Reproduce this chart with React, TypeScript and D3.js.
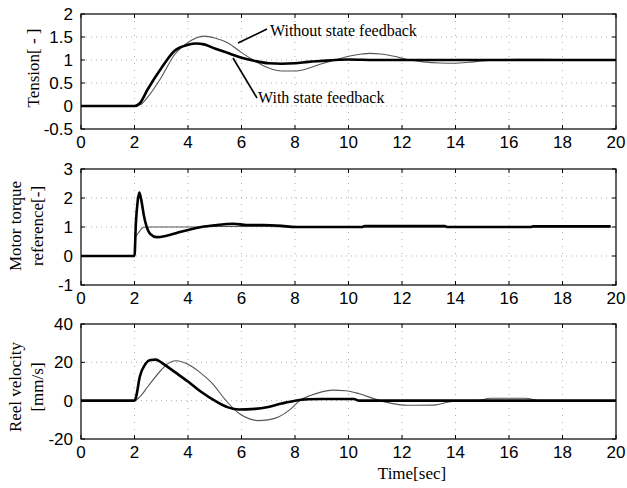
import React from "react";
import * as d3 from "d3";

// Time samples (s) and responses for each panel
const tensionThinT = [0, 2, 2.25, 2.5, 3, 3.5, 4, 4.3, 4.6, 5, 5.5, 6, 6.5, 7, 7.5, 8, 8.5, 9, 9.5, 10, 10.5, 10.8, 11.2, 11.7, 12.2, 12.8, 13.4, 14, 14.5, 15, 15.5, 16.3, 17, 18, 19, 20];
const tensionThinV = [0, 0, 0.04, 0.2, 0.62, 1.12, 1.38, 1.48, 1.52, 1.48, 1.37, 1.16, 0.98, 0.83, 0.76, 0.76, 0.82, 0.92, 1.0, 1.08, 1.13, 1.145, 1.13, 1.08, 1.01, 0.96, 0.935, 0.93, 0.95, 0.98, 1.0, 1.015, 1.015, 1.01, 1.0, 1.0];

const tensionThickT = [0, 2, 2.2, 2.5, 3, 3.5, 4, 4.3, 4.6, 5, 5.5, 6, 6.5, 7, 7.5, 8, 8.5, 9, 9.5, 10, 11, 12, 14, 16, 18, 20];
const tensionThickV = [0, 0, 0.06, 0.37, 0.82, 1.2, 1.33, 1.36, 1.34, 1.25, 1.15, 1.05, 0.98, 0.93, 0.92, 0.93, 0.96, 0.98, 1.0, 1.01, 1.0, 1.0, 1.0, 1.0, 1.0, 1.0];

const torqueThinT = [0, 2, 2.03, 2.15, 2.35, 2.6, 4, 5, 6, 7, 8, 10, 14, 18, 19.8];
const torqueThinV = [0, 0, 0.62, 0.8, 0.99, 1.0, 1.0, 1.02, 1.02, 1.02, 1.0, 1.0, 1.0, 1.0, 1.0];

const torqueThickT = [0, 2, 2.05, 2.12, 2.18, 2.25, 2.35, 2.45, 2.6, 2.83, 3.2, 3.6, 4, 4.5, 5, 5.7, 6.2, 6.8, 7.5, 8, 9, 10.5, 10.6, 13.6, 13.7, 16.8, 16.9, 19.8];
const torqueThickV = [0, 0, 1.1, 1.9, 2.19, 1.95, 1.4, 1.02, 0.75, 0.65, 0.7, 0.8, 0.9, 1.0, 1.06, 1.11, 1.07, 1.07, 1.04, 1.0, 1.0, 1.0, 1.03, 1.03, 1.0, 1.0, 1.02, 1.02];

const velThinT = [0, 2, 2.2, 2.5, 3, 3.2, 3.55, 4, 4.4, 4.9, 5.4, 5.9, 6.3, 6.6, 7, 7.4, 7.8, 8.2, 8.6, 9, 9.4, 9.9, 10.4, 11, 11.6, 12.2, 13.2, 13.8, 14.3, 14.9, 15.3, 16.6, 17.2, 20];
const velThinV = [0, 0, 2, 7.4, 16, 18.8, 20.8, 19, 15.3, 9.1, 0.4, -6.6, -9.5, -10.4, -10, -8.4, -4.8, 0.3, 2.8, 4.6, 5.5, 5.2, 3.6, 0.8, -1.4, -2.4, -2.3, -0.6, 0, 0.2, 1.3, 1.3, 0, 0];

const velThickT = [0, 2, 2.05, 2.2, 2.4, 2.6, 2.8, 3.0, 3.2, 3.5, 4, 4.5, 5, 5.5, 5.9, 6.5, 7, 7.5, 8, 8.5, 9, 10.2, 10.4, 12, 16, 20];
const velThickV = [0, 0, 1.5, 12.6, 19, 21.2, 21.4, 20, 18, 15, 10, 4.5, 0, -3.5, -4.6, -4.3, -3.3, -1.5, 0, 0.7, 0.9, 0.9, 0, 0, 0, 0];

const xTicks = [0, 2, 4, 6, 8, 10, 12, 14, 16, 18, 20];
const tensionTicks = [-0.5, 0, 0.5, 1, 1.5, 2];
const torqueTicks = [-1, 0, 1, 2, 3];
const velTicks = [-20, 0, 20, 40];

const LEFT = 81;
const RIGHT = 616;

type Series = { t: number[]; v: number[]; thick: boolean };

type PanelProps = {
  top: number;
  bottom: number;
  domain: [number, number];
  yTicks: number[];
  fmt: (v: number) => string;
  series: Series[];
  labelLines: string[];
  labelCenter: number;
  children?: React.ReactNode;
};

function Panel({ top, bottom, domain, yTicks, fmt, series, labelLines, labelCenter }: PanelProps) {
  const x = d3.scaleLinear().domain([0, 20]).range([LEFT, RIGHT]);
  const y = d3.scaleLinear().domain(domain).range([bottom, top]);
  const line = (s: Series) =>
    d3
      .line<number>()
      .x((_, i) => x(s.t[i]))
      .y((d) => y(d))
      .curve(d3.curveMonotoneX)(s.v) || "";
  const tickLen = 4;
  const labelXs = labelLines.length === 1 ? [33] : [15, 37];
  return (
    <g>
      {/* dotted grid */}
      {xTicks.slice(1, -1).map((t) => (
        <line key={"gx" + t} x1={x(t)} x2={x(t)} y1={top} y2={bottom} stroke="#9a9a9a" strokeWidth={0.8} strokeDasharray="1,6" />
      ))}
      {yTicks.slice(1, -1).map((t) => (
        <line key={"gy" + t} x1={LEFT} x2={RIGHT} y1={y(t)} y2={y(t)} stroke="#9a9a9a" strokeWidth={0.8} strokeDasharray="1,4" />
      ))}
      {/* data */}
      {series.filter((s) => !s.thick).map((s, i) => (
        <path key={"thin" + i} d={line(s)} fill="none" stroke="#555" strokeWidth={1.1} />
      ))}
      {series.filter((s) => s.thick).map((s, i) => (
        <path key={"thick" + i} d={line(s)} fill="none" stroke="#000" strokeWidth={2.6} strokeLinejoin="round" />
      ))}
      {/* frame */}
      <rect x={LEFT} y={top} width={RIGHT - LEFT} height={bottom - top} fill="none" stroke="#000" strokeWidth={1.2} />
      {xTicks.map((t) => (
        <g key={"xt" + t}>
          <line x1={x(t)} x2={x(t)} y1={bottom} y2={bottom - tickLen} stroke="#000" />
          <line x1={x(t)} x2={x(t)} y1={top} y2={top + tickLen} stroke="#000" />
          <text x={x(t)} y={bottom + 19} textAnchor="middle" fontFamily="Liberation Sans, Arial, sans-serif" fontSize={17}>
            {t}
          </text>
        </g>
      ))}
      {yTicks.map((t) => (
        <g key={"yt" + t}>
          <line x1={LEFT} x2={LEFT + tickLen} y1={y(t)} y2={y(t)} stroke="#000" />
          <line x1={RIGHT} x2={RIGHT - tickLen} y1={y(t)} y2={y(t)} stroke="#000" />
          <text x={73} y={y(t)} dy="0.36em" textAnchor="end" fontFamily="Liberation Sans, Arial, sans-serif" fontSize={17}>
            {fmt(t)}
          </text>
        </g>
      ))}
      {labelLines.map((l, i) => (
        <text
          key={l}
          transform={`translate(${labelXs[i]},${labelCenter}) rotate(-90)`}
          textAnchor="middle"
          dy="0.35em"
          fontFamily="Liberation Serif, Times New Roman, serif"
          fontSize={17}
        >
          {l}
        </text>
      ))}
    </g>
  );
}

export default function App() {
  const fmtPlain = (v: number) => String(v);
  return (
    <svg width={627} height={488} style={{ position: "absolute", left: 0, top: 0, background: "#fff" }}>
      <rect width={627} height={488} fill="#fff" />
      <Panel
        top={14}
        bottom={129}
        domain={[-0.5, 2]}
        yTicks={tensionTicks}
        fmt={fmtPlain}
        series={[
          { t: tensionThinT, v: tensionThinV, thick: false },
          { t: tensionThickT, v: tensionThickV, thick: true },
        ]}
        labelLines={["Tension[ - ]"]}
        labelCenter={68}
      />
      <Panel
        top={169}
        bottom={285}
        domain={[-1, 3]}
        yTicks={torqueTicks}
        fmt={fmtPlain}
        series={[
          { t: torqueThinT, v: torqueThinV, thick: false },
          { t: torqueThickT, v: torqueThickV, thick: true },
        ]}
        labelLines={["Motor torque", "reference[-]"]}
        labelCenter={226}
      />
      <Panel
        top={324}
        bottom={439}
        domain={[-20, 40]}
        yTicks={velTicks}
        fmt={fmtPlain}
        series={[
          { t: velThinT, v: velThinV, thick: false },
          { t: velThickT, v: velThickV, thick: true },
        ]}
        labelLines={["Reel velocity", "[mm/s]"]}
        labelCenter={387}
      />
      {/* annotations */}
      <line x1={267} y1={29} x2={238} y2={43} stroke="#000" strokeWidth={1.6} />
      <text x={270} y={36} fontFamily="Liberation Serif, Times New Roman, serif" fontSize={16}>
        Without state feedback
      </text>
      <line x1={257} y1={98} x2={233} y2={58} stroke="#000" strokeWidth={1.6} />
      <text x={258} y={103} fontFamily="Liberation Serif, Times New Roman, serif" fontSize={16}>
        With state feedback
      </text>
      <text x={412} y={479} textAnchor="middle" fontFamily="Liberation Serif, Times New Roman, serif" fontSize={17}>
        Time[sec]
      </text>
    </svg>
  );
}
